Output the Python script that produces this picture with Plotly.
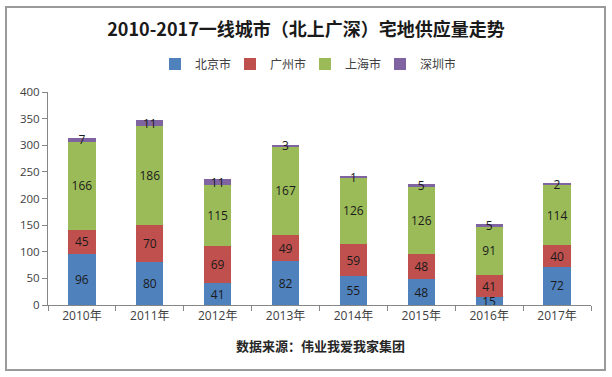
import plotly.graph_objects as go

years = ["2010年", "2011年", "2012年", "2013年", "2014年", "2015年", "2016年", "2017年"]
beijing = [96, 80, 41, 82, 55, 48, 15, 72]
guangzhou = [45, 70, 69, 49, 59, 48, 41, 40]
shanghai = [166, 186, 115, 167, 126, 126, 91, 114]
shenzhen = [7, 11, 11, 3, 1, 5, 5, 2]

series = [
    ("北京市", beijing, "#4F81BD"),
    ("广州市", guangzhou, "#C0504D"),
    ("上海市", shanghai, "#9BBB59"),
    ("深圳市", shenzhen, "#8064A2"),
]

FONT = "Open Sans, Noto Sans CJK SC, sans-serif"
CJK = "Noto Sans CJK SC, sans-serif"

# plot area in pixels
L, R, T, B = 48, 591, 92, 305
PW, PH = R - L, B - T

fig = go.Figure()
for name, vals, color in series:
    fig.add_trace(go.Bar(
        name=name, x=years, y=vals,
        marker=dict(color=color, line=dict(width=0)),
        text=[str(v) for v in vals],
        textposition="inside",
        insidetextanchor="middle",
        textangle=0,
        constraintext="none",
        textfont=dict(family=FONT, size=12, color="#1a1a1a"),
        cliponaxis=False,
    ))

fig.update_layout(
    barmode="stack",
    bargap=0.6,
    width=612, height=377,
    margin=dict(l=L, r=612 - R, t=T, b=377 - B, autoexpand=False),
    paper_bgcolor="white",
    plot_bgcolor="white",
    uniformtext=dict(minsize=12, mode="show"),
    font=dict(family=FONT, size=11, color="#404040"),
    title=dict(
        text="<b>2010-2017一线城市（北上广深）宅地供应量走势</b>",
        x=0.5, xanchor="center", y=1 - 30 / 377, yanchor="middle",
        font=dict(family=CJK, size=18, color="#1a1a1a"),
    ),
    legend=dict(
        orientation="h", x=(305 - L) / PW, xanchor="center", y=(B - 64) / PH, yanchor="middle",
        font=dict(family=CJK, size=12, color="#404040"),
        itemwidth=30, traceorder="normal",
        entrywidth=30, entrywidthmode="pixels",
    ),
    showlegend=True,
    xaxis=dict(
        showline=True, linecolor="#868686", linewidth=1,
        ticks="outside", tickson="boundaries", ticklen=5, tickcolor="#868686",
        showgrid=False,
        tickfont=dict(family=FONT, size=12, color="#404040"),
    ),
    yaxis=dict(
        range=[0, 400], dtick=50,
        showline=True, linecolor="#868686", linewidth=1,
        ticks="outside", ticklen=5, tickcolor="#868686",
        showgrid=False, zeroline=False,
        tickfont=dict(family=FONT, size=11.5, color="#404040"),
    ),
    shapes=[dict(
        type="rect", xref="paper", yref="paper",
        x0=(6 - L) / PW, x1=(605 - L) / PW,
        y0=(B - 370) / PH, y1=(B - 7) / PH,
        line=dict(color="#9a9a9a", width=2), fillcolor="rgba(0,0,0,0)",
        layer="below",
    )],
    annotations=[dict(
        text="<b>数据来源：伟业我爱我家集团</b>",
        xref="paper", yref="paper", x=(320 - L) / PW, y=(B - 345) / PH,
        xanchor="center", yanchor="middle", showarrow=False,
        font=dict(family=CJK, size=13, color="#262626"),
    )],
)

fig.write_html("out.html", config={"displayModeBar": False},
               post_script="document.body.style.margin='0';")
